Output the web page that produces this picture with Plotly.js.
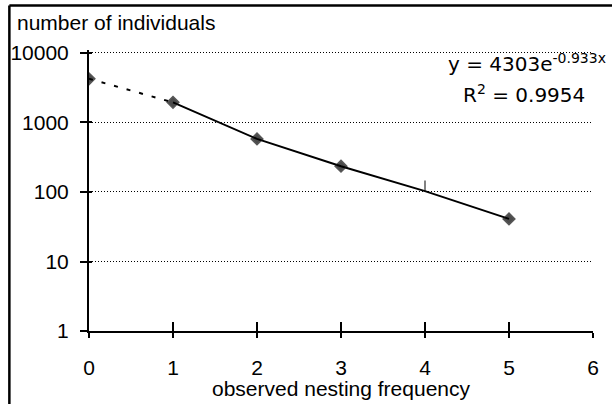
<!DOCTYPE html>
<html>
<head>
<meta charset="utf-8">
<script src="https://cdn.plot.ly/plotly-3.0.1.min.js"></script>
<style>html,body{margin:0;padding:0;background:#fff;}#chart{width:612px;height:404px;}</style>
</head>
<body>
<div id="chart"></div>
<script>
// Observed data
const nestingFrequency = [0, 1, 2, 3, 4, 5];
const individuals = [4250, 1950, 580, 235, 122, 41];
const markerSymbols = ['diamond', 'diamond', 'diamond', 'diamond', 'line-ns', 'diamond'];

// Trendline as drawn on the picture (exponential fit y = 4303e^-0.933x)
const trendDottedX = [0, 1];
const trendDottedY = [4250, 1950];
const trendSolidX = [1, 2, 3, 4, 5];
const trendSolidY = [1950, 580, 235, 103, 41];

const xTicks = [0, 1, 2, 3, 4, 5, 6];
const yTicks = [1, 10, 100, 1000, 10000];
const yTickText = ['1', '10', '100', '1000', '10000'];

const FONT = 'Liberation Sans, Arial, sans-serif';
const EQFONT = 'DejaVu Sans, Liberation Sans, sans-serif';

const traces = [
  {x: trendDottedX, y: trendDottedY, mode: 'lines', line: {color: '#000', width: 2, dash: '4px,9px'}, hoverinfo: 'skip', showlegend: false},
  {x: trendSolidX, y: trendSolidY, mode: 'lines', line: {color: '#000', width: 2}, hoverinfo: 'skip', showlegend: false},
  {x: nestingFrequency, y: individuals, mode: 'markers',
   marker: {symbol: markerSymbols, size: [9, 9, 9, 9, 8, 9], color: '#000', line: {color: '#111', width: 1.5}}, showlegend: false},
  {x: [0], y: [1], xaxis: 'x2', yaxis: 'y2', mode: 'markers', marker: {opacity: 0}, hoverinfo: 'skip', showlegend: false}
];

const layout = {
  width: 612, height: 404,
  margin: {l: 89, r: 19, t: 50, b: 73},
  paper_bgcolor: '#fff', plot_bgcolor: '#fff',
  font: {family: FONT, size: 21, color: '#000'},
  xaxis: {
    range: [0, 6], tickvals: xTicks, ticktext: xTicks.map(String),
    showgrid: false, zeroline: false, showline: true, linecolor: '#000', linewidth: 2,
    ticks: 'outside', ticklen: 5, tickwidth: 2, tickcolor: '#000',
    tickfont: {family: FONT, size: 21}, ticklabelstandoff: 12
  },
  xaxis2: {
    overlaying: 'x', anchor: 'y2', range: [0, 6], tickvals: xTicks, showticklabels: false,
    showgrid: false, zeroline: false, showline: false,
    ticks: 'inside', ticklen: 9, tickwidth: 2, tickcolor: '#000'
  },
  yaxis: {
    type: 'log', range: [0, 4.043], tickvals: yTicks, ticktext: yTickText,
    showgrid: true, gridcolor: '#000', gridwidth: 1, griddash: '1px,2px',
    zeroline: false, showline: true, linecolor: '#000', linewidth: 2,
    ticks: 'outside', ticklen: 7, tickwidth: 2, tickcolor: '#000',
    tickfont: {family: FONT, size: 21}, ticklabelstandoff: 7
  },
  yaxis2: {
    overlaying: 'y', anchor: 'x2', type: 'log', range: [0, 4.043], tickvals: yTicks, showticklabels: false,
    showgrid: false, zeroline: false, showline: false,
    ticks: 'inside', ticklen: 3, tickwidth: 2, tickcolor: '#000'
  },
  shapes: [
    {type: 'line', xref: 'paper', yref: 'paper', x0: -0.158, x1: 1.04, y0: 1.158, y1: 1.158, line: {color: '#000', width: 2.5}},
    {type: 'line', xref: 'paper', yref: 'paper', x0: -0.158, x1: -0.158, y0: 1.158, y1: -0.27, line: {color: '#000', width: 2.5}}
  ],
  annotations: [
    {text: 'number of individuals', xref: 'paper', yref: 'paper', x: -0.1468, y: 1.098, xanchor: 'left', yanchor: 'middle', showarrow: false, font: {family: FONT, size: 21}},
    {text: 'observed nesting frequency', xref: 'paper', yref: 'paper', x: 0.5, y: -0.203, xanchor: 'center', yanchor: 'middle', showarrow: false, font: {family: FONT, size: 21}},
    {text: 'y = 4303e<sup>-0.933x</sup>', xref: 'paper', yref: 'paper', x: 1.0298, y: 0.952, xanchor: 'right', yanchor: 'middle', showarrow: false, font: {family: EQFONT, size: 20}},
    {text: 'R<sup>2</sup> = 0.9954', xref: 'paper', yref: 'paper', x: 0.863, y: 0.843, xanchor: 'center', yanchor: 'middle', showarrow: false, font: {family: EQFONT, size: 20}}
  ],
  showlegend: false
};

Plotly.newPlot('chart', traces, layout, {staticPlot: true, displayModeBar: false});
</script>
</body>
</html>
